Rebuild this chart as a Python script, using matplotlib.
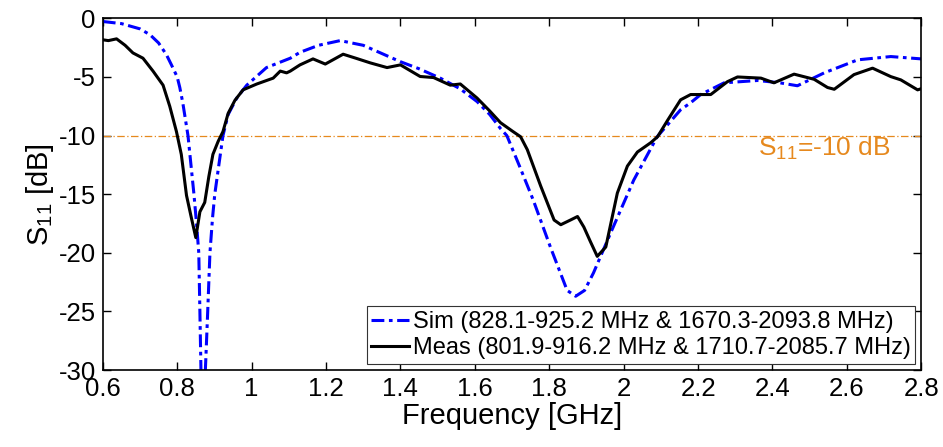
import matplotlib
matplotlib.use("Agg")
import matplotlib.pyplot as plt

plt.rcParams["font.family"] = ["Liberation Sans", "DejaVu Sans"]
plt.rcParams["mathtext.fontset"] = "custom"
plt.rcParams["mathtext.rm"] = "Liberation Sans"
plt.rcParams["mathtext.it"] = "Liberation Sans"
plt.rcParams["mathtext.default"] = "regular"
plt.rcParams["axes.unicode_minus"] = False

# simulated S11 (GHz, dB)
sim_f = [0.60, 0.65, 0.70, 0.727, 0.75, 0.771, 0.785, 0.80, 0.807, 0.815, 0.829,
         0.845, 0.852, 0.858, 0.861, 0.865, 0.869, 0.873, 0.877, 0.882, 0.888,
         0.895, 0.901, 0.912, 0.923, 0.937, 0.960, 0.987, 1.04, 1.104, 1.13,
         1.18, 1.238, 1.30, 1.40, 1.45, 1.507, 1.56, 1.606, 1.64, 1.669, 1.686,
         1.72, 1.757, 1.803, 1.848, 1.871, 1.895, 1.919, 1.965, 2.027, 2.09,
         2.153, 2.18, 2.207, 2.27, 2.36, 2.42, 2.467, 2.539, 2.629, 2.718, 2.80]
sim_s11 = [-0.27, -0.45, -0.9, -1.4, -2.1, -3.1, -4.0, -5.0, -5.9, -7.2, -10.0,
           -15.0, -17.5, -20.0, -25.0, -32.0, -38.0, -32.0, -29.0, -25.0, -20.0,
           -17.0, -15.0, -12.5, -10.0, -8.2, -6.8, -5.7, -4.2, -3.4, -2.9,
           -2.3, -1.9, -2.3, -3.7, -4.3, -5.1, -6.0, -7.1, -8.2, -9.4, -10.0,
           -12.6, -15.5, -19.5, -23.2, -23.7, -23.2, -21.7, -18.3, -13.8, -10.1,
           -7.8, -7.2, -6.5, -5.5, -5.3, -5.5, -5.75, -4.65, -3.54, -3.26, -3.46]

# measured S11 (GHz, dB)
meas_f = [0.60, 0.615, 0.637, 0.66, 0.681, 0.708, 0.735, 0.762, 0.78, 0.798, 0.811,
          0.825, 0.838, 0.850, 0.861, 0.874, 0.885, 0.896, 0.910, 0.923, 0.937,
          0.955, 0.977, 1.014, 1.058, 1.077, 1.094, 1.104, 1.13, 1.165, 1.198,
          1.246, 1.28, 1.319, 1.364, 1.40, 1.453, 1.489, 1.534, 1.561, 1.606,
          1.64, 1.669, 1.70, 1.723, 1.741, 1.777, 1.813, 1.831, 1.857, 1.876,
          1.893, 1.91, 1.929, 1.952, 1.983, 2.010, 2.037, 2.073, 2.091, 2.118,
          2.153, 2.18, 2.234, 2.279, 2.306, 2.369, 2.404, 2.458, 2.512, 2.548,
          2.566, 2.619, 2.669, 2.718, 2.745, 2.79, 2.80]
meas_s11 = [-1.83, -1.9, -1.75, -2.3, -2.95, -3.4, -4.5, -5.7, -7.5, -9.66, -11.6,
            -15.1, -17.0, -18.7, -16.5, -15.7, -13.5, -11.6, -10.5, -9.66, -8.1,
            -7.0, -6.1, -5.6, -5.1, -4.5, -4.65, -4.5, -3.97, -3.46, -3.9,
            -3.06, -3.4, -3.8, -4.2, -3.97, -4.96, -5.05, -5.7, -5.6, -6.8,
            -7.9, -8.9, -9.6, -10.1, -11.2, -14.3, -17.2, -17.6, -17.2, -16.9,
            -17.8, -19.0, -20.3, -19.5, -14.9, -12.6, -11.4, -10.6, -10.1, -8.7,
            -6.95, -6.5, -6.5, -5.4, -5.0, -5.1, -5.5, -4.76, -5.2, -5.9,
            -6.05, -4.8, -4.25, -4.97, -5.25, -6.1, -6.0]

threshold = -10
sim_label = "Sim (828.1-925.2 MHz & 1670.3-2093.8 MHz)"
meas_label = "Meas (801.9-916.2 MHz & 1710.7-2085.7 MHz)"

fig = plt.figure(figsize=(9.43, 4.47), dpi=100)
ax = fig.add_axes([0.109, 0.172, 0.868, 0.787])

ax.axhline(threshold, color="#E6891E", lw=0.9, ls=(0, (6, 2, 1, 2)))
ax.plot(sim_f, sim_s11, color="#0000FF", lw=2.2,
        ls=(0, (4.2, 1.5, 1.2, 1.5)), label=sim_label)
ax.plot(meas_f, meas_s11, color="black", lw=2.2, label=meas_label)

ax.text(2.362, -11.1, r"S$_{11}$=-10 dB", color="#E6891E", fontsize=19,
        va="center", ha="left")

ax.set_xlim(0.6, 2.8)
ax.set_ylim(-30, 0)
ax.set_xticks([0.6, 0.8, 1, 1.2, 1.4, 1.6, 1.8, 2, 2.2, 2.4, 2.6, 2.8])
ax.set_xticklabels(["0.6", "0.8", "1", "1.2", "1.4", "1.6", "1.8", "2",
                    "2.2", "2.4", "2.6", "2.8"])
ax.set_yticks([-30, -25, -20, -15, -10, -5, 0])
ax.tick_params(direction="in", top=True, right=True, length=6, width=1,
               labelsize=18.5, pad=5)
for sp in ax.spines.values():
    sp.set_linewidth(1.2)

ax.set_xlabel("Frequency [GHz]", fontsize=21, labelpad=1)
ax.set_ylabel(r"S$_{11}$ [dB]", fontsize=21, labelpad=2)

leg = ax.legend(loc="lower right", fontsize=17, handlelength=1.6,
                handletextpad=0.15, borderpad=0.2, labelspacing=0.2,
                fancybox=False, framealpha=1, borderaxespad=0.25)
leg.get_frame().set_edgecolor("#333333")
leg.get_frame().set_linewidth(0.8)

fig.savefig("out.png", dpi=100)
